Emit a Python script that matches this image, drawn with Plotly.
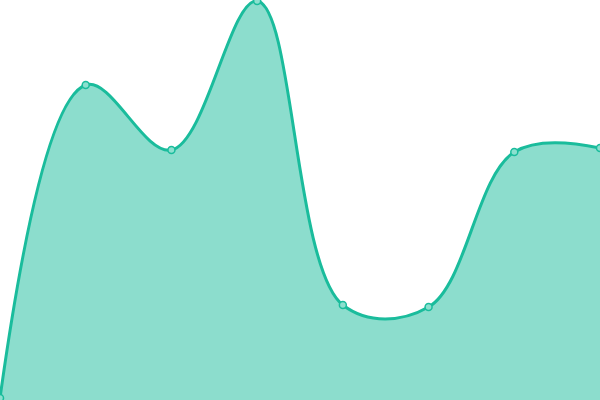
import plotly.graph_objects as go

# 数据点（按像素读出，y轴0~400）
x_idx = [0, 1, 2, 3, 4, 5, 6, 7]
values = [2, 315, 250, 399, 95, 93, 248, 252]

line_color = '#1abc9c'

area = go.Scatter(
    x=x_idx, y=values,
    mode='lines+markers',
    line=dict(color=line_color, width=3, shape='spline', smoothing=1.05),
    marker=dict(size=7, color='#8ce0cf', line=dict(color=line_color, width=1.5)),
    fill='tozeroy', fillcolor='rgba(26,188,156,0.5)',
    hoverinfo='skip'
)

fig = go.Figure(
    data=[area],
    layout=go.Layout(
        width=600, height=400,
        margin=dict(l=0, r=0, t=0, b=0),
        paper_bgcolor='white', plot_bgcolor='white',
        showlegend=False,
        xaxis=dict(visible=False, range=[0, 7]),
        yaxis=dict(visible=False, range=[0, 400])
    )
)
# 去掉页面默认的8px边距，让图表贴满窗口
fig.write_html("out.html", config={'displayModeBar': False},
               post_script="document.body.style.margin='0';")
